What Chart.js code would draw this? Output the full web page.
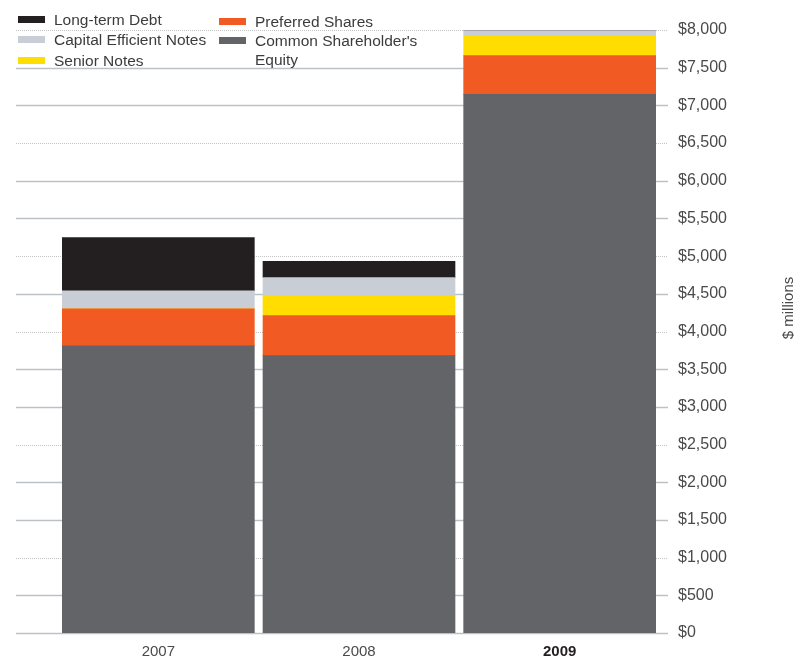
<!DOCTYPE html>
<html>
<head>
<meta charset="utf-8">
<script src="https://cdn.jsdelivr.net/npm/chart.js@4.4.1/dist/chart.umd.min.js"></script>
<style>
  html, body { margin: 0; padding: 0; background: #fff; }
  #wrap { position: relative; width: 800px; height: 658px; }
  #legend {
    position: absolute; left: 0; top: 0;
    font-family: "Liberation Sans", Arial, sans-serif; font-size: 15.5px; color: #3c3c3e;
  }
  .item { position: absolute; white-space: nowrap; line-height: 19px; }
  .sw { position: absolute; width: 27px; height: 7px; }
</style>
</head>
<body>
<div id="wrap">
  <canvas id="chart" width="800" height="658"></canvas>
  <div id="legend"></div>
</div>
<script>
'use strict';

const YEARS            = ['2007', '2008', '2009'];
const COMMON_EQUITY    = [3810, 3680, 7145];
const PREFERRED_SHARES = [490, 530, 515];
const SENIOR_NOTES     = [0, 255, 255];
const CAPITAL_NOTES    = [240, 250, 75];
const LONG_TERM_DEBT   = [705, 215, 0];
const Y_TICKS          = [0, 500, 1000, 1500, 2000, 2500, 3000, 3500, 4000, 4500, 5000, 5500, 6000, 6500, 7000, 7500, 8000];
const DOTTED_TICKS     = [1000, 2500, 4000, 5000, 6500, 8000];

const COLORS = {
  equity:    '#636467',
  preferred: '#f15a22',
  senior:    '#ffdd00',
  capital:   '#c9ced6',
  debt:      '#231f20',
};

// legend (html, two columns like the original)
const LEGEND = [
  { label: 'Long-term Debt',          color: COLORS.debt,      x: 18,  y: 10 },
  { label: 'Capital Efficient Notes', color: COLORS.capital,   x: 18,  y: 30 },
  { label: 'Senior Notes',            color: COLORS.senior,    x: 18,  y: 51 },
  { label: 'Preferred Shares',        color: COLORS.preferred, x: 219, y: 12 },
  { label: "Common Shareholder's",    color: COLORS.equity,    x: 219, y: 31 },
  { label: 'Equity',                  color: null,             x: 219, y: 50 },
];
const legendEl = document.getElementById('legend');
LEGEND.forEach(l => {
  if (l.color) {
    const sw = document.createElement('div');
    sw.className = 'sw';
    sw.style.left = l.x + 'px';
    sw.style.top = (l.y + 6) + 'px';
    sw.style.background = l.color;
    legendEl.appendChild(sw);
  }
  const t = document.createElement('div');
  t.className = 'item';
  t.style.left = (l.x + 36) + 'px';
  t.style.top = l.y + 'px';
  t.textContent = l.label;
  legendEl.appendChild(t);
});

// gridlines run past the plot area to the left, some dotted some solid
const gridPlugin = {
  id: 'customGrid',
  beforeDatasetsDraw(chart) {
    const { ctx, chartArea, scales: { y } } = chart;
    ctx.save();
    Y_TICKS.forEach(v => {
      const py = Math.round(y.getPixelForValue(v)) + 0.5;
      const dotted = DOTTED_TICKS.includes(v);
      ctx.beginPath();
      ctx.setLineDash(dotted ? [1, 1] : []);
      ctx.strokeStyle = dotted ? '#c4c4c4' : '#bcc1c6';
      ctx.lineWidth = dotted ? 1 : 1.5;
      ctx.moveTo(16, py);
      ctx.lineTo(chartArea.right + 8, py);
      ctx.stroke();
    });
    ctx.restore();
  },
  afterDraw(chart) {
    const { ctx } = chart;
    ctx.save();
    ctx.translate(789, 308);
    ctx.rotate(-Math.PI / 2);
    ctx.font = '15px "Liberation Sans", Arial, sans-serif';
    ctx.fillStyle = '#4a4a4c';
    ctx.textAlign = 'center';
    ctx.textBaseline = 'middle';
    ctx.fillText('$ millions', 0, 0);
    ctx.restore();
  },
};

const ds = (label, data, color) => ({
  label, data, backgroundColor: color, borderWidth: 0,
  barThickness: 192, stack: 'a',
});

new Chart(document.getElementById('chart'), {
  type: 'bar',
  data: {
    labels: YEARS,
    datasets: [
      ds("Common Shareholder's Equity", COMMON_EQUITY, COLORS.equity),
      ds('Preferred Shares', PREFERRED_SHARES, COLORS.preferred),
      ds('Senior Notes', SENIOR_NOTES, COLORS.senior),
      ds('Capital Efficient Notes', CAPITAL_NOTES, COLORS.capital),
      ds('Long-term Debt', LONG_TERM_DEBT, COLORS.debt),
    ],
  },
  options: {
    responsive: false,
    animation: false,
    layout: { padding: { left: 58, top: 30, right: 0, bottom: 0 } },
    plugins: { legend: { display: false }, tooltip: { enabled: false } },
    scales: {
      x: {
        stacked: true,
        grid: { display: false, drawTicks: false },
        border: { display: false },
        ticks: {
          padding: 10,
          color: ctx => ctx.index === 2 ? '#231f20' : '#4a4a4c',
          font: ctx => ({
            family: '"Liberation Sans", Arial, sans-serif',
            size: 15,
            weight: ctx.index === 2 ? 'bold' : 'normal',
          }),
        },
        afterFit: s => { s.height = 25; },
      },
      y: {
        stacked: true,
        position: 'right',
        min: 0,
        max: 8000,
        grid: { display: false, drawTicks: true, tickLength: 8 },
        border: { display: false },
        afterBuildTicks: s => { s.ticks = Y_TICKS.map(v => ({ value: v })); },
        ticks: {
          padding: 10,
          color: '#4a4a4c',
          font: { family: '"Liberation Sans", Arial, sans-serif', size: 16 },
          callback: v => '$' + v.toLocaleString('en-US'),
        },
        afterFit: s => { s.width = 140; },
      },
    },
  },
  plugins: [gridPlugin],
});
</script>
</body>
</html>
